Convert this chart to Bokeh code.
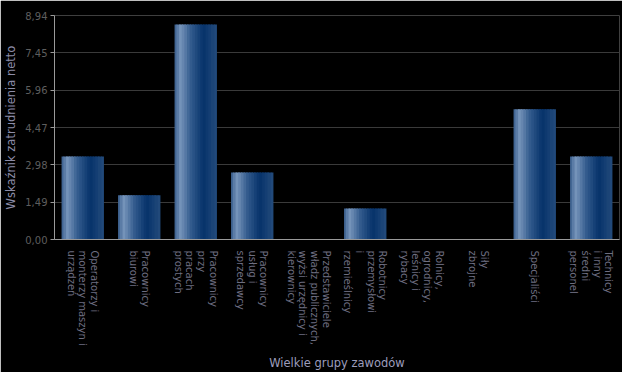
import math
from bokeh.plotting import figure
from bokeh.models import ColumnDataSource, FixedTicker, CustomJSTickFormatter
from bokeh.transform import dodge
from bokeh.embed import file_html
from bokeh.resources import INLINE

# ---- data ----
categories = [
    "Operatorzy i\nmonterzy maszyn i\nurządzeń",
    "Pracownicy\nbiurowi",
    "Pracownicy\nprzy\npracach\nprostych",
    "Pracownicy\nusług i\nsprzedawcy",
    "Przedstawiciele\nwładz publicznych,\nwyżsi urzędnicy i\nkierownicy",
    "Robotnicy\nprzemysłowi\ni\nrzemieślnicy",
    "Rolnicy,\nogrodnicy,\nleśnicy i\nrybacy",
    "Siły\nzbrojne",
    "Specjaliści",
    "Technicy\ni inny\nśredni\npersonel",
]
values = [3.31, 1.77, 8.58, 2.67, 0.0, 1.24, 0.0, 0.0, 5.20, 3.31]
y_ticks = [0, 1.49, 2.98, 4.47, 5.96, 7.45, 8.94]
y_max = 8.94
x_title = "Wielkie grupy zawodów"
y_title = "Wskaźnik zatrudnienia netto"

# gradient stops across a bar (position, rgb)
grad_stops = [
    (0.00, (52, 90, 138)),
    (0.16, (118, 148, 186)),
    (0.40, (52, 92, 142)),
    (0.70, (6, 50, 106)),
    (1.00, (36, 76, 124)),
]

def grad_color(t):
    for (p0, c0), (p1, c1) in zip(grad_stops[:-1], grad_stops[1:]):
        if p0 <= t <= p1:
            f = (t - p0) / (p1 - p0) if p1 > p0 else 0
            c = [round(a + (b - a) * f) for a, b in zip(c0, c1)]
            return "#%02x%02x%02x" % tuple(c)
    return "#%02x%02x%02x" % grad_stops[-1][1]

source = ColumnDataSource(dict(cat=categories, val=values))

p = figure(
    width=622, height=372,
    x_range=categories, y_range=(0, y_max),
    output_backend="svg", toolbar_location=None,
    background_fill_color="black", border_fill_color="black",
    min_border_left=54, min_border_right=3, min_border_top=15, min_border_bottom=133,
)
p.outline_line_color = None

bar_w = 0.75
n_strips = 16
sw = bar_w / n_strips
for i in range(n_strips):
    t = (i + 0.5) / n_strips
    off = -bar_w / 2 + (i + 0.5) * sw
    w = sw if i in (0, n_strips - 1) else sw * 1.6
    p.vbar(x=dodge("cat", off, range=p.x_range), top="val", width=w,
           source=source, fill_color=grad_color(t), line_color=None)

# y axis
p.yaxis.ticker = FixedTicker(ticks=y_ticks)
p.yaxis.formatter = CustomJSTickFormatter(code="return tick.toFixed(2).replace('.', ',');")
p.yaxis.axis_label = y_title
p.yaxis.axis_label_text_font = "DejaVu Sans"
p.yaxis.axis_label_text_font_style = "normal"
p.yaxis.axis_label_text_font_size = "11.5px"
p.yaxis.axis_label_text_color = "#8c8ca8"
p.yaxis.axis_label_standoff = 4
p.yaxis.major_label_text_font = "DejaVu Sans"
p.yaxis.major_label_text_font_size = "10px"
p.yaxis.major_label_text_color = "#5e5e5e"
p.yaxis.major_label_standoff = 3
p.yaxis.axis_line_color = "#9a9a9a"
p.yaxis.major_tick_line_color = "#9a9a9a"
p.yaxis.major_tick_out = 4
p.yaxis.major_tick_in = 0
p.yaxis.minor_tick_line_color = None

# x axis
p.xaxis.axis_label = x_title
p.xaxis.axis_label_text_font = "DejaVu Sans"
p.xaxis.axis_label_text_font_style = "normal"
p.xaxis.axis_label_text_font_size = "11.5px"
p.xaxis.axis_label_text_color = "#9c9cbc"
p.xaxis.axis_label_standoff = 7
p.xaxis.major_label_orientation = -math.pi / 2
p.xaxis.major_label_text_font = "DejaVu Sans"
p.xaxis.major_label_text_font_size = "10px"
p.xaxis.major_label_text_color = "#6e6e80"
p.xaxis.major_label_text_line_height = 1.05
p.xaxis.major_label_standoff = 5
p.xaxis.axis_line_color = "#9a9a9a"
p.xaxis.major_tick_line_color = None
p.xaxis.minor_tick_line_color = None

p.xgrid.grid_line_color = None
p.ygrid.grid_line_color = "#3a3a3a"
p.ygrid.grid_line_width = 1

open("out.html", "w").write(file_html(p, INLINE))
